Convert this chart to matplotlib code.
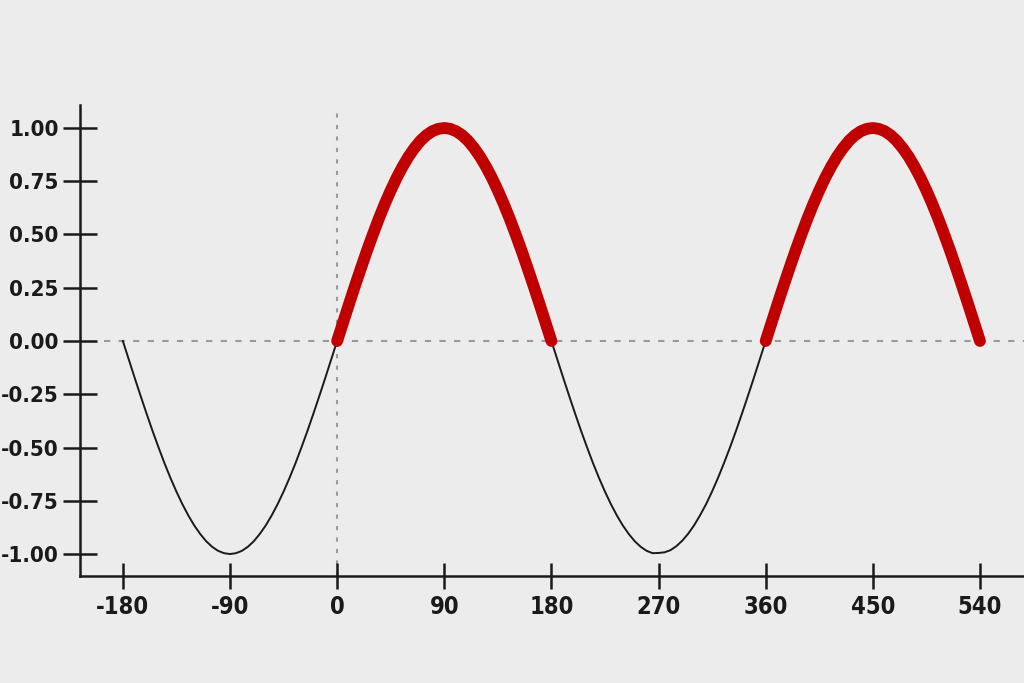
import matplotlib
matplotlib.use("Agg")
import matplotlib.pyplot as plt
import numpy as np

# angle (degrees) and value, every 5 degrees
angles = list(range(-180, 541, 5))
values = [
    # -180 .. -5
    0.000, -0.087, -0.174, -0.259, -0.342, -0.423, -0.500, -0.574, -0.643,
    -0.707, -0.766, -0.819, -0.866, -0.906, -0.940, -0.966, -0.985, -0.996,
    -1.000, -0.996, -0.985, -0.966, -0.940, -0.906, -0.866, -0.819, -0.766,
    -0.707, -0.643, -0.574, -0.500, -0.423, -0.342, -0.259, -0.174, -0.087,
    # 0 .. 175
    0.000, 0.087, 0.174, 0.259, 0.342, 0.423, 0.500, 0.574, 0.643,
    0.707, 0.766, 0.819, 0.866, 0.906, 0.940, 0.966, 0.985, 0.996,
    1.000, 0.996, 0.985, 0.966, 0.940, 0.906, 0.866, 0.819, 0.766,
    0.707, 0.643, 0.574, 0.500, 0.423, 0.342, 0.259, 0.174, 0.087,
    # 180 .. 355
    0.000, -0.087, -0.174, -0.259, -0.342, -0.423, -0.500, -0.574, -0.643,
    -0.707, -0.766, -0.819, -0.866, -0.906, -0.940, -0.966, -0.985, -0.996,
    -0.995, -0.992, -0.982, -0.963, -0.937, -0.904, -0.864, -0.817, -0.765,
    -0.706, -0.642, -0.573, -0.500, -0.423, -0.342, -0.259, -0.174, -0.087,
    # 360 .. 535
    0.000, 0.087, 0.174, 0.259, 0.342, 0.423, 0.500, 0.574, 0.643,
    0.707, 0.766, 0.819, 0.866, 0.906, 0.940, 0.966, 0.985, 0.996,
    1.000, 0.996, 0.985, 0.966, 0.940, 0.906, 0.866, 0.819, 0.766,
    0.707, 0.643, 0.574, 0.500, 0.423, 0.342, 0.259, 0.174, 0.087,
    # 540
    0.000,
]
positive_spans = [(0, 180), (360, 540)]

x_ticks = [-180, -90, 0, 90, 180, 270, 360, 450, 540]
y_ticks = [1.00, 0.75, 0.50, 0.25, 0.00, -0.25, -0.50, -0.75, -1.00]

bg = "#ececec"
red = "#c00000"
ink = "#1a1a1a"

plt.rcParams["font.family"] = ["Noto Sans Condensed", "DejaVu Sans Condensed",
                               "Liberation Sans Narrow", "DejaVu Sans"]
plt.rcParams["font.stretch"] = "condensed"

fig = plt.figure(figsize=(10.24, 6.83), dpi=100, facecolor=bg)
ax = fig.add_axes([0.078125, 0.1567, 0.921875, 0.6896])
ax.set_facecolor(bg)

x = np.array(angles)
y = np.array(values)

ax.axhline(0, xmin=0.025, color="#9a9a9a", lw=1.5, ls=(0, (3, 4)), zorder=1)
ax.axvline(0, ymax=0.985, color="#9a9a9a", lw=1.5, ls=(0, (2, 3.5)), zorder=1)

ax.plot(x, y, color=ink, lw=1.4, zorder=2)
for lo, hi in positive_spans:
    m = (x >= lo) & (x <= hi)
    ax.plot(x[m], y[m], color=red, lw=8.5, solid_capstyle="round",
            solid_joinstyle="round", zorder=3)

ax.set_xlim(-216, 577)
ax.set_ylim(-1.103, 1.108)

for s in ["top", "right"]:
    ax.spines[s].set_visible(False)
for s in ["left", "bottom"]:
    ax.spines[s].set_color(ink)
    ax.spines[s].set_linewidth(1.8)

ax.set_xticks(x_ticks, [str(t) for t in x_ticks])
ax.set_yticks(y_ticks, [f"{t:.2f}" for t in y_ticks])
ax.tick_params(axis="y", direction="inout", length=24.5, width=1.8, color=ink,
               pad=3, labelsize=16, labelcolor=ink)
ax.tick_params(axis="x", direction="inout", length=19, width=1.8, color=ink,
               pad=4, labelsize=17, labelcolor=ink)
for lab in ax.get_xticklabels() + ax.get_yticklabels():
    lab.set_fontweight("bold")
    lab.set_fontstretch("condensed")

fig.savefig("out.png", dpi=100, facecolor=bg)
